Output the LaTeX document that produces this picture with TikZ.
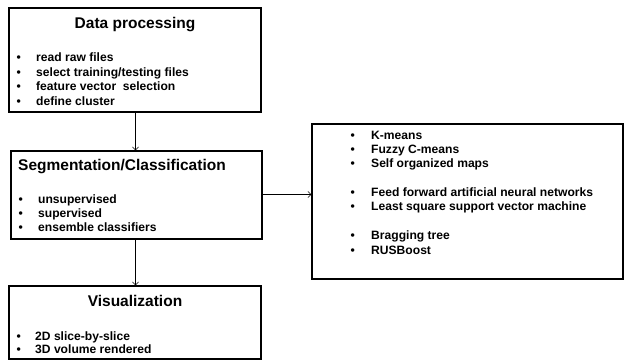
\documentclass[tikz,border=0pt]{standalone}
\usepackage{fontspec}
\setmainfont{Liberation Sans}
\usetikzlibrary{ arrows.meta
               , positioning
               }

\begin{document}
\begin{tikzpicture}
      [ x=1pt, y=-1pt
      , stagebox/.style={draw, line width=1.3pt, inner sep=0pt}
      , heading/.style={font=\bfseries\fontsize{15.5}{19}\selectfont, inner sep=0pt}
      , bullets/.style={font=\bfseries\fontsize{12.1}{14.4}\selectfont, inner sep=0pt, anchor=base west}
      , flow/.style={->, >={Straight Barb[length=3pt, width=6pt]}, line width=0.6pt}
      ]
    \useasboundingbox (0,0) rectangle (624,361);

    \node[stagebox, minimum width=252pt, minimum height=104pt] (DP) at (135,60) {};
    \node[stagebox, minimum width=251pt, minimum height=88pt] (SC) at (136.5,195) {};
    \node[stagebox, minimum width=252pt, minimum height=73pt] (VI) at (135,322.5) {};
    \node[stagebox, minimum width=311pt, minimum height=155pt] (M) at (467.5,201.5) {};

    \node[heading, anchor=base] (DPt) at (135,28.5) {Data processing};
    \node[heading, anchor=base west] (SCt) at (18,170) {Segmentation/Classification};
    \node[heading, anchor=base] (VIt) at (135,306) {Visualization};

    \node[bullets] (DPl) at (16.5,62)
      {\begin{tabular}[t]{@{}p{19.5pt}@{}l@{}}
       \textbullet & read raw files\\
       \textbullet & select training/testing files\\
       \textbullet & feature vector\ \ selection\\
       \textbullet & define cluster
       \end{tabular}};
    \node[bullets] (SCl) at (18.5,203)
      {\begin{tabular}[t]{@{}p{19.5pt}@{}l@{}}
       \textbullet & unsupervised\\
       \textbullet & supervised\\
       \textbullet & ensemble classifiers
       \end{tabular}};
    \node[bullets] (VIl) at (16.5,340)
      {\begin{tabular}[t]{@{}p{18.5pt}@{}l@{}}
       \textbullet & 2D slice-by-slice\\[-1pt]
       \textbullet & 3D volume rendered
       \end{tabular}};
    \node[bullets] (Ml) at (350.5,139)
      {\begin{tabular}[t]{@{}p{20.5pt}@{}l@{}}
       \textbullet & K-means\\
       \textbullet & Fuzzy C-means\\
       \textbullet & Self organized maps\\
       & \\
       \textbullet & Feed forward artificial neural networks\\
       \textbullet & Least square support vector machine\\
       & \\
       \textbullet & Bragging tree\\
       \textbullet & RUSBoost
       \end{tabular}};

    \draw[flow] (DP.south -| 135.5,0) -- (SC.north -| 135.5,0);
    \draw[flow] (SC.south -| 135.5,0) -- (VI.north -| 135.5,0);
    \draw[flow] (SC.east |- 0,194.5) -- (M.west |- 0,194.5);
\end{tikzpicture}
\end{document}
